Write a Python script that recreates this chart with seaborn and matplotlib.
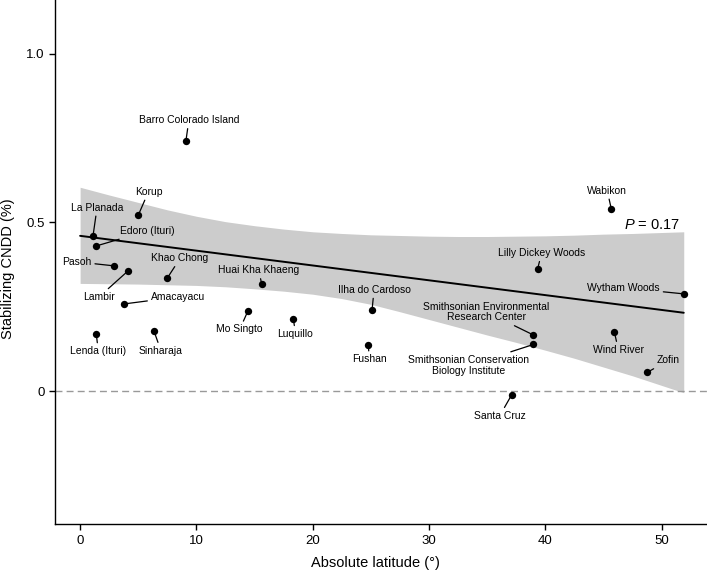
import numpy as np
import pandas as pd
import seaborn as sns
import matplotlib
matplotlib.use('Agg')
import matplotlib.pyplot as plt

# site values
sites = ['Barro Colorado Island', 'Korup', 'La Planada', 'Edoro (Ituri)', 'Pasoh',
         'Lambir', 'Khao Chong', 'Huai Kha Khaeng', 'Amacayacu', 'Lenda (Ituri)',
         'Sinharaja', 'Mo Singto', 'Luquillo', 'Ilha do Cardoso', 'Fushan',
         'Wabikon', 'Lilly Dickey Woods', 'Wytham Woods',
         'Smithsonian Environmental\nResearch Center',
         'Smithsonian Conservation\nBiology Institute',
         'Wind River', 'Zofin', 'Santa Cruz']
latitude = [9.09, 5.01, 1.11, 1.39, 2.92,
            4.12, 7.48, 15.62, 3.75, 1.39,
            6.34, 14.41, 18.34, 25.10, 24.78,
            45.67, 39.33, 51.90,
            38.98,
            38.98,
            45.93, 48.75, 37.11]
cndd = [0.740, 0.522, 0.460, 0.430, 0.371,
        0.356, 0.334, 0.316, 0.258, 0.169,
        0.179, 0.236, 0.214, 0.240, 0.136,
        0.540, 0.361, 0.288,
        0.166,
        0.138,
        0.176, 0.055, -0.011]

# fitted trend and its confidence band
fit_lat = [0.0, 51.9]
fit_cndd = [0.460, 0.232]
band_lat = [0, 2.5, 5, 7.5, 10, 12.5, 15, 17.5, 20, 22.5, 25, 27.5, 30,
            32.5, 35, 37.5, 40, 42.5, 45, 47.5, 51.9]
band_upper = [0.604, 0.581, 0.559, 0.537, 0.518, 0.502, 0.490, 0.480, 0.472, 0.467, 0.463, 0.461, 0.459,
              0.458, 0.458, 0.459, 0.460, 0.462, 0.465, 0.467, 0.472]
band_lower = [0.319, 0.318, 0.317, 0.315, 0.313, 0.309, 0.303, 0.296, 0.287, 0.274, 0.257, 0.235, 0.212,
              0.189, 0.166, 0.144, 0.121, 0.097, 0.071, 0.045, -0.005]
p_text = r'$P$ = 0.17'

# label offsets from each point, in pixels (dx, dy)
label_offsets = [(3, 21), (10, 23), (4, 28), (51, 15), (-37, 4),
                 (-29, -26), (13, 20), (-3, 14), (54, 7), (2, -17),
                 (7, -20), (-8, -18), (2, -15), (2, 20), (1, -14),
                 (-4, 18), (4, 16), (-60, 6),
                 (-47, 23),
                 (-65, -21),
                 (4, -18), (21, 12), (-12, -21)]

df = pd.DataFrame({'site': sites, 'lat': latitude, 'cndd': cndd})
fit = pd.DataFrame({'lat': fit_lat, 'cndd': fit_cndd})

sns.set_style('ticks')
plt.rcParams['font.family'] = ['Liberation Sans', 'DejaVu Sans']
plt.rcParams['mathtext.fontset'] = 'custom'
plt.rcParams['mathtext.it'] = 'Liberation Sans:italic'
plt.rcParams['mathtext.rm'] = 'Liberation Sans'
for key in ['text.color', 'axes.labelcolor', 'xtick.color', 'ytick.color']:
    plt.rcParams[key] = 'black'

fig = plt.figure(figsize=(7.07, 5.72), dpi=100)
ax = fig.add_axes([55 / 707, 47.7 / 572, 652 / 707, 524.3 / 572])

ax.fill_between(band_lat, band_lower, band_upper, color='#cccccc', lw=0, zorder=1)
ax.axhline(0, color='#999999', lw=1, ls=(0, (5, 3)), zorder=1)
sns.lineplot(data=fit, x='lat', y='cndd', color='black', lw=1.4, ax=ax, zorder=2)
sns.scatterplot(data=df, x='lat', y='cndd', color='black', s=28, linewidth=0,
                ax=ax, zorder=4)

for i, row in df.iterrows():
    dx, dy = label_offsets[i]
    ax.annotate(row['site'], xy=(row['lat'], row['cndd']),
                xytext=(dx, dy), textcoords='offset pixels',
                ha='center', va='center', fontsize=7.5, linespacing=1.1,
                color='black',
                arrowprops=dict(arrowstyle='-', color='black', lw=0.9,
                                shrinkA=0, shrinkB=2),
                zorder=3)

ax.text(51.6, 0.479, p_text, ha='right', va='baseline', fontsize=10.5)

ax.set_xlim(-2.16, 53.9)
ax.set_ylim(-0.395, 1.159)
ax.set_xticks([0, 10, 20, 30, 40, 50])
ax.set_yticks([0, 0.5, 1.0])
ax.set_yticklabels(['0', '0.5', '1.0'])
ax.tick_params(axis='both', length=4, width=1, color='black', labelcolor='black',
               labelsize=9.5, pad=3.5)

ax.set_xlabel('Absolute latitude (°)', fontsize=10.5)
ax.set_ylabel('Stabilizing CNDD (%)', fontsize=10.5)
ax.xaxis.set_label_coords(0.492, -0.0605)
ax.yaxis.set_label_coords(-0.0606, 0.488)

sns.despine(ax=ax)
for side in ['left', 'bottom']:
    ax.spines[side].set_color('black')
    ax.spines[side].set_linewidth(1)

fig.savefig('out.png', dpi=100)
